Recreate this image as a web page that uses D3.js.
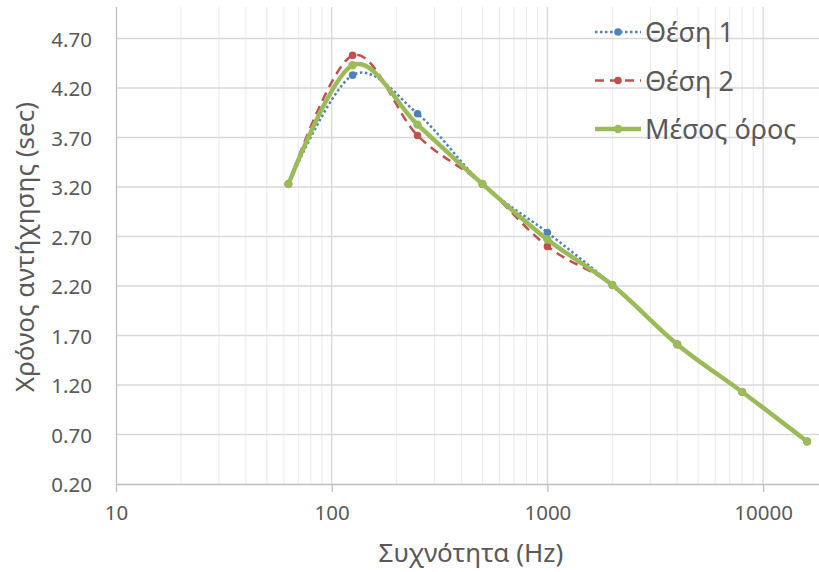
<!DOCTYPE html>
<html><head><meta charset="utf-8">
<script src="https://cdn.jsdelivr.net/npm/d3@7"></script>
<style>
html,body{margin:0;padding:0;background:#fff;}
svg text{font-family:"Noto Sans","Open Sans",sans-serif;fill:#595959;}
</style></head>
<body>
<svg id="chart" width="819" height="572"></svg>
<script>
// ---- data ----
const frequencies = [63, 125, 250, 500, 1000, 2000, 4000, 8000, 16000];
const thesi1 = [3.23, 4.33, 3.94, 3.23, 2.74, 2.21, 1.61, 1.13, 0.63];
const thesi2 = [3.23, 4.53, 3.72, 3.23, 2.60, 2.21, 1.61, 1.13, 0.63];
const mesosOros = [3.23, 4.43, 3.83, 3.23, 2.67, 2.21, 1.61, 1.13, 0.63];
const seriesNames = ["Θέση 1", "Θέση 2", "Μέσος όρος"];
const yTickValues = [0.20, 0.70, 1.20, 1.70, 2.20, 2.70, 3.20, 3.70, 4.20, 4.70];
const xTickValues = [10, 100, 1000, 10000];
const xTitle = "Συχνότητα (Hz)";
const yTitle = "Χρόνος αντήχησης (sec)";

(function () {
// ---- layout ----
const pL = 116, pB = 484, pT = 7, pR = 819;
const decade = 215.7;

const svg = d3.select("#chart");
const x = d3.scaleLog().domain([10, 100000]).range([pL, pL + 4 * decade]);
const y = d3.scaleLinear().domain([0.2, 4.7]).range([pB, 38.5]);

// minor vertical gridlines
const minor = [];
for (let d = 10; d < 100000; d *= 10) for (let k = 2; k <= 9; k++) { const v = d * k; if (x(v) <= pR) minor.push(v); }
svg.append("g").selectAll("line").data(minor).join("line")
  .attr("x1", d => x(d)).attr("x2", d => x(d)).attr("y1", pT).attr("y2", pB)
  .attr("stroke", "#ebebeb").attr("stroke-width", 1);
// major vertical gridlines
svg.append("g").selectAll("line").data(xTickValues.slice(1)).join("line")
  .attr("x1", d => x(d)).attr("x2", d => x(d)).attr("y1", pT).attr("y2", pB)
  .attr("stroke", "#d9d9d9").attr("stroke-width", 1.3);
// horizontal gridlines
svg.append("g").selectAll("line").data(yTickValues.slice(1)).join("line")
  .attr("x1", pL).attr("x2", pR).attr("y1", d => y(d)).attr("y2", d => y(d))
  .attr("stroke", "#d9d9d9").attr("stroke-width", 1.3);

// axes
const xAxis = d3.axisBottom(x).tickValues(xTickValues).tickFormat(d3.format("d")).tickSize(8).tickPadding(10);
const gx = svg.append("g").attr("transform", `translate(0,${pB})`).call(xAxis);
gx.select(".domain").attr("d", `M${pL},0.5H${pR}`).attr("stroke", "#bfbfbf").attr("stroke-width", 1.3);
gx.selectAll(".tick line").attr("stroke", "#bfbfbf").attr("stroke-width", 1.3);
gx.selectAll(".tick text").attr("font-size", 20.5).attr("fill", "#595959").attr("font-family", "Noto Sans").attr("dy", "0.9em");

const yAxis = d3.axisLeft(y).tickValues(yTickValues).tickFormat(d3.format(".2f")).tickSize(0).tickPadding(24);
const gy = svg.append("g").attr("transform", `translate(${pL},0)`).call(yAxis);
gy.select(".domain").attr("d", `M0.5,${pT}V${pB}`).attr("stroke", "#bfbfbf").attr("stroke-width", 1.3);
gy.selectAll(".tick text").attr("font-size", 20.5).attr("fill", "#595959").attr("font-family", "Noto Sans").attr("dy", "0.38em");

// axis titles
svg.append("text").attr("x", 471).attr("y", 562).attr("text-anchor", "middle").attr("font-size", 26).text(xTitle);
svg.append("text").attr("transform", "translate(34,247) rotate(-90)").attr("text-anchor", "middle").attr("font-size", 26).text(yTitle);

// series
const series = [
  {name: seriesNames[0], values: thesi1, color: "#4F81BD", width: 2.5, dash: "2.5,2.5", r: 3.8},
  {name: seriesNames[1], values: thesi2, color: "#C0504D", width: 2.5, dash: "9,6", r: 3.8},
  {name: seriesNames[2], values: mesosOros, color: "#9BBB59", width: 4.5, dash: null, r: 4.2}
];
svg.append("clipPath").attr("id", "plotclip").append("rect")
  .attr("x", pL).attr("y", pT).attr("width", pR - pL).attr("height", pB - pT);
const line = d3.line().x(d => x(d[0])).y(d => y(d[1])).curve(d3.curveCardinal.tension(0));
const plot = svg.append("g").attr("clip-path", "url(#plotclip)");
series.forEach(s => {
  const pts = frequencies.map((f, i) => [f, s.values[i]]);
  plot.append("path").datum(pts).attr("d", line).attr("fill", "none")
    .attr("stroke", s.color).attr("stroke-width", s.width)
    .attr("stroke-dasharray", s.dash).attr("stroke-linejoin", "round");
  plot.append("g").selectAll("circle").data(pts).join("circle")
    .attr("cx", d => x(d[0])).attr("cy", d => y(d[1])).attr("r", s.r).attr("fill", s.color);
});

// legend
const lg = svg.append("g");
series.forEach((s, i) => {
  const ly = 32 + i * 48.5;
  lg.append("line").attr("x1", 595).attr("x2", 641).attr("y1", ly).attr("y2", ly)
    .attr("stroke", s.color).attr("stroke-width", s.width).attr("stroke-dasharray", s.dash);
  lg.append("circle").attr("cx", 618).attr("cy", ly).attr("r", s.r).attr("fill", s.color);
  lg.append("text").attr("x", 645).attr("y", ly + 1).attr("dy", "0.35em").attr("font-size", 27).text(s.name);
});
})();
</script>
</body></html>
